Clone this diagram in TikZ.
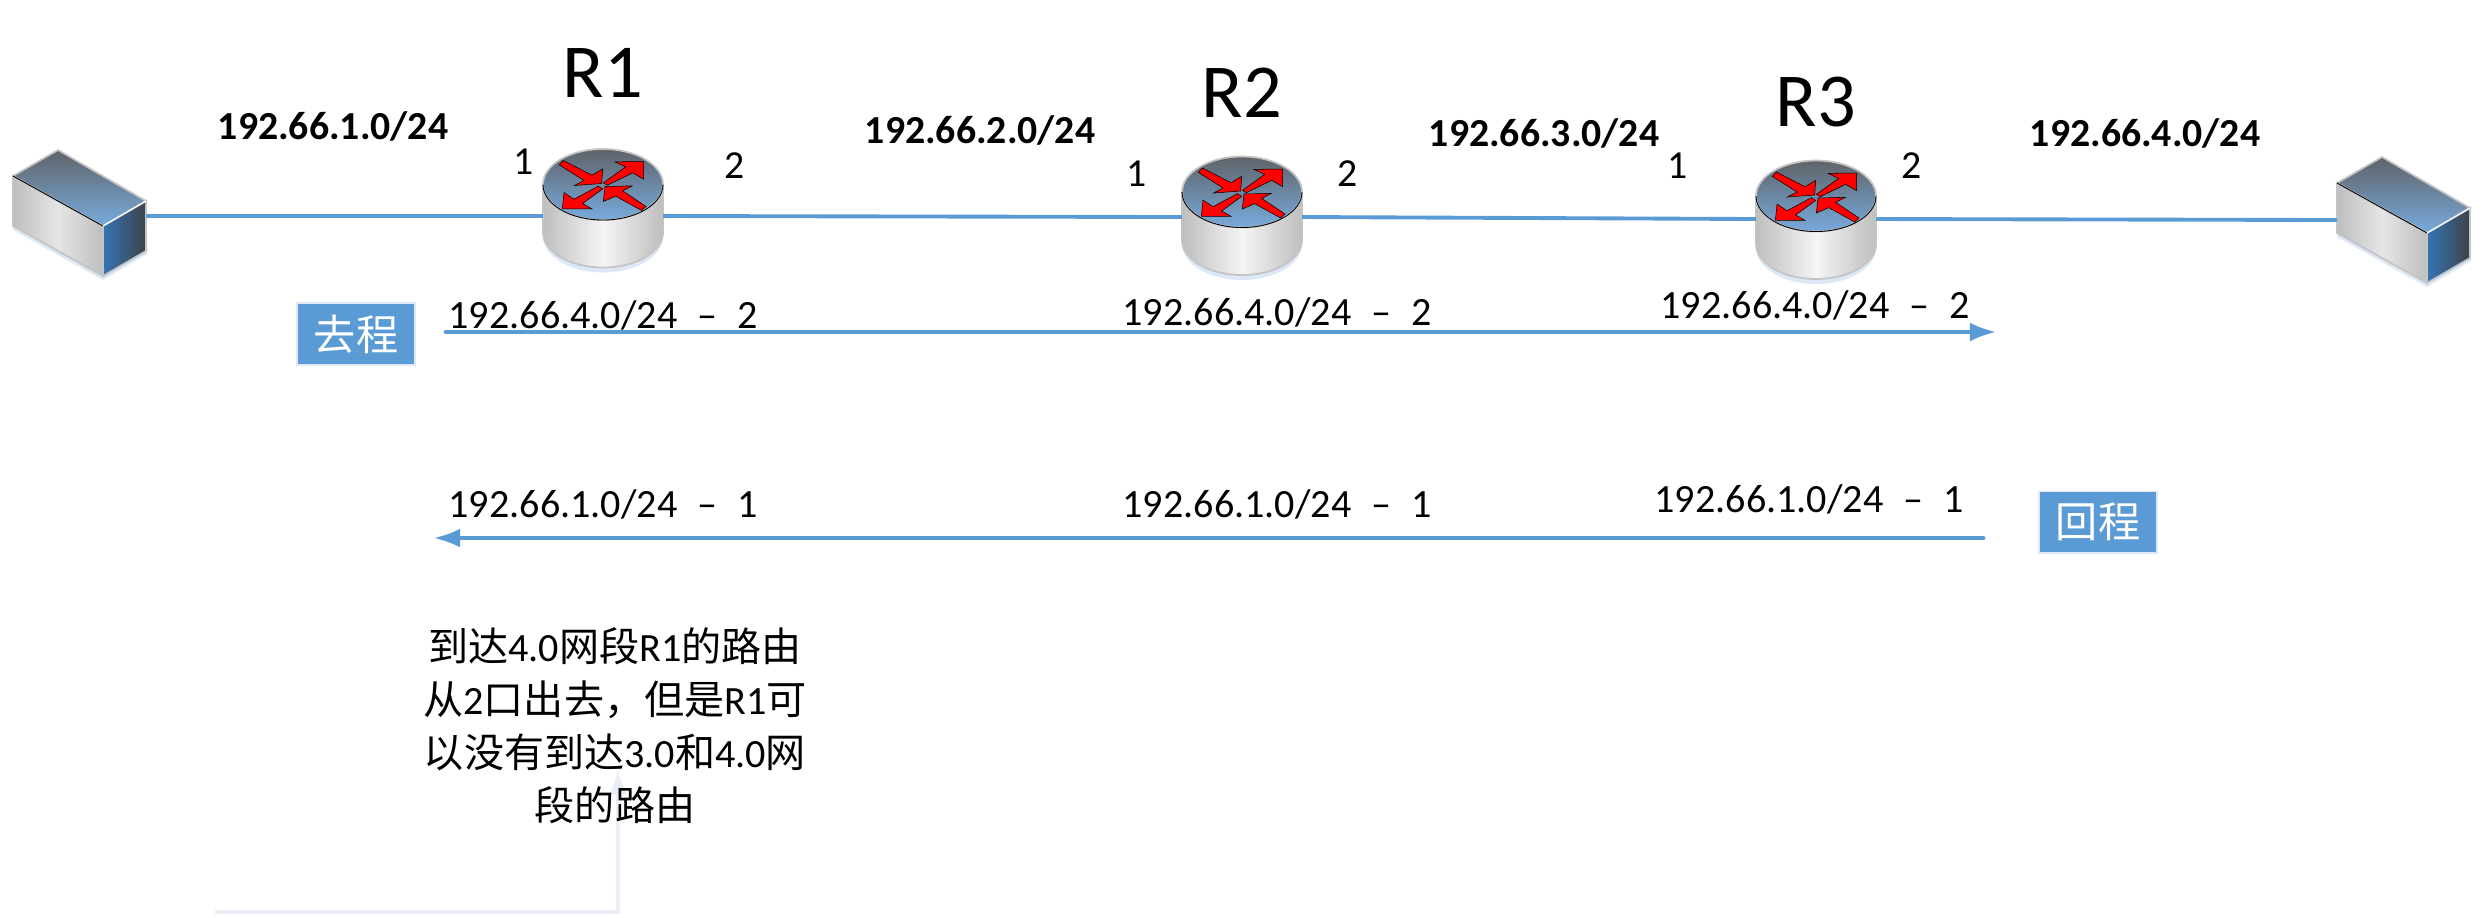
\documentclass[tikz,border=0pt]{standalone}
\usepackage{fontspec}
\setmainfont{Carlito}
\newfontfamily\cjk{Noto Sans CJK SC}
\usetikzlibrary{positioning,arrows.meta}
\definecolor{linkblue}{HTML}{5B9BD5}
\definecolor{topgrey}{HTML}{5F6368}
\definecolor{topblue}{HTML}{78ABDD}
\definecolor{rimgrey}{HTML}{C4C4C4}
\definecolor{sidegrey}{HTML}{BEBEBE}
\definecolor{glowblue}{HTML}{DCE8F6}
\definecolor{paleline}{HTML}{E8EDF7}
\definecolor{hostblue}{HTML}{3575B5}
\definecolor{hostdark}{HTML}{3C4248}
\newcommand{\hop}{\ \ \kern.5pt--\ \ \kern.5pt}

\begin{document}
\begin{tikzpicture}[
  x=0.01cm,
  y=-0.01cm,
  link line/.style={draw=linkblue,line width=1.1pt},
  flow arrow/.style={draw=linkblue,line width=1.4pt,line cap=round,-{Latex[length=7.7pt,width=5.4pt]}},
  callout line/.style={draw=paleline,line width=1.4pt,-latex},
  router name/.style={inner sep=0,anchor=south,font=\fontsize{21.7}{24}\selectfont},
  port label/.style={inner sep=0,font=\fontsize{11.3}{13}\selectfont},
  net label/.style={inner sep=0,anchor=base,font=\fontsize{11.3}{13}\selectfont\bfseries},
  route label/.style={inner sep=0,anchor=base,font=\fontsize{11.4}{13}\selectfont},
  way box/.style={
    draw=glowblue,
    fill=linkblue,
    text=white,
    line width=0.4pt,
    minimum width=1.18cm,
    minimum height=0.61cm,
    font=\fontsize{12}{14}\selectfont\cjk,
  },
  note label/.style={align=center,inner sep=0,font=\fontsize{11.4}{15.1}\selectfont},
  red arrow/.style={fill=red,draw=black,line width=0.15pt},
  router/.pic={
    \path[fill=glowblue] (-60,4) -- (-60,52) arc[start angle=180,end angle=0,x radius=60,y radius=36] -- (60,4) -- cycle;
    \path[draw=rimgrey,line width=0.5pt,left color=sidegrey,right color=sidegrey,middle color=white!96!black]
      (-60,0) -- (-60,48) arc[start angle=180,end angle=0,x radius=60,y radius=35] -- (60,0) -- cycle;
    \path[draw=rimgrey,line width=0.5pt,top color=topgrey,bottom color=topblue] (0,0) ellipse[x radius=60,y radius=35.5];
    \draw[black,line width=0.25pt] (-60,0) arc[start angle=180,end angle=0,x radius=60,y radius=35.5];
    \begin{scope}[scale=0.3333]
      \path[red arrow] (-119,-72) -- (-33,-28) -- (-1,-47) -- (-4,-3) -- (-86,3) -- (-57,-12) -- (-131,-59) -- cycle;
      \path[red arrow] (1,-5) -- (68,-53) -- (36,-68) -- (122,-69) -- (122,-16) -- (89,-35) -- (13,2) -- cycle;
      \path[red arrow] (-14,5) -- (-87,44) -- (-117,24) -- (-122,73) -- (-33,73) -- (-61,57) -- (-1,13) -- cycle;
      \path[red arrow] (129,66) -- (59,19) -- (88,4) -- (6,6) -- (1,51) -- (38,35) -- (116,78) -- cycle;
    \end{scope}
    \node[minimum width=1.2cm,minimum height=1.18cm,inner sep=0] (-body) at (0,24) {};
    \coordinate (-west) at (-60,#1);
    \coordinate (-east) at (60,#1);
  },
  host/.pic={
    \path[fill=glowblue] (0,54) -- (90,104) -- (134,78) -- (134,60) -- (90,80) -- (0,40) -- cycle;
    \path[draw=rimgrey,line width=0.5pt,left color=sidegrey,right color=sidegrey,middle color=white!90!black]
      (0,0) -- (90,50) -- (90,100) -- (0,50) -- cycle;
    \path[draw=rimgrey,line width=0.5pt,top color=topgrey,bottom color=topblue]
      (0,0) -- (45,-26) -- (133,25) -- (90,50) -- cycle;
    \path[draw=rimgrey,line width=0.5pt,left color=hostblue,right color=hostdark]
      (90,50) -- (133,25) -- (133,75) -- (90,100) -- cycle;
    \draw[black,line width=0.25pt] (0,0) -- (90,50);
    \draw[white,line width=0.3pt] (90,50) -- (133,25);
    \coordinate (-east) at (133,40);
    \coordinate (-west) at (0,37);
  },
  ]
  \useasboundingbox (0,0) rectangle (2486,917);
  \pic (host-left)  at (13,176)   {host};
  \pic (host-right) at (2337,183) {host};
  \pic (r1) at (603,184.5) {router=31.5};
  \pic (r2) at (1242,192)  {router=25};
  \pic (r3) at (1816,196)  {router=23};
  \begin{scope}
    \node[router name,above=0.51cm of r1-body] (r1-name) {R1};
    \node[router name,above=0.38cm of r2-body] (r2-name) {R2};
    \node[router name,above=0.33cm of r3-body] (r3-name) {R3};
    \node[port label] (r1-port1) at (524,162)  {1};
    \node[port label] (r1-port2) at (735,166)  {2};
    \node[port label] (r2-port1) at (1137,174) {1};
    \node[port label] (r2-port2) at (1348,174) {2};
    \node[port label] (r3-port1) at (1678,166) {1};
    \node[port label] (r3-port2) at (1912,166) {2};
  \end{scope}
  \begin{scope}
    \node[net label] (net1) at (333,139)  {192.66.1.0/24};
    \node[net label] (net2) at (980,143)  {192.66.2.0/24};
    \node[net label] (net3) at (1544,146) {192.66.3.0/24};
    \node[net label] (net4) at (2145,146) {192.66.4.0/24};
  \end{scope}
  \path[link line] (host-left-east) -- (r1-west);
  \path[link line] (r1-east) -- (r2-west);
  \path[link line] (r2-east) -- (r3-west);
  \path[link line] (r3-east) -- (host-right-west);
  \begin{scope}
    \node[way box] (go-box)   at (356,334)  {去程};
    \node[way box] (back-box) at (2098,522) {回程};
    \coordinate (go-start)   at (446,332);
    \coordinate (go-end)     at (1997,332);
    \coordinate (back-start) at (1983,538);
    \coordinate (back-end)   at (433,538);
    \path[flow arrow] (go-start) -- (go-end);
    \path[flow arrow] (back-start) -- (back-end);
    \node[route label] (go-r1) at (603,328)  {192.66.4.0/24\hop 2};
    \node[route label] (go-r2) at (1277,325) {192.66.4.0/24\hop 2};
    \node[route label] (go-r3) at (1815,318) {192.66.4.0/24\hop 2};
    \node[route label] (back-r1) at (603,517)  {192.66.1.0/24\hop 1};
    \node[route label] (back-r2) at (1277,517) {192.66.1.0/24\hop 1};
    \node[route label] (back-r3) at (1809,512) {192.66.1.0/24\hop 1};
  \end{scope}
  \coordinate (note-tail) at (215,912);
  \coordinate (note-head) at (618,770);
  \path[callout line] (note-tail) -| (note-head);
  \node[note label] (note) at (615,726) {{\cjk 到达}4.0{\cjk 网段}R1{\cjk 的路由}\\
    {\cjk 从}2{\cjk 口出去，但是}R1{\cjk 可}\\
    {\cjk 以没有到达}3.0{\cjk 和}4.0{\cjk 网}\\
    {\cjk 段的路由}};
\end{tikzpicture}
\end{document}
